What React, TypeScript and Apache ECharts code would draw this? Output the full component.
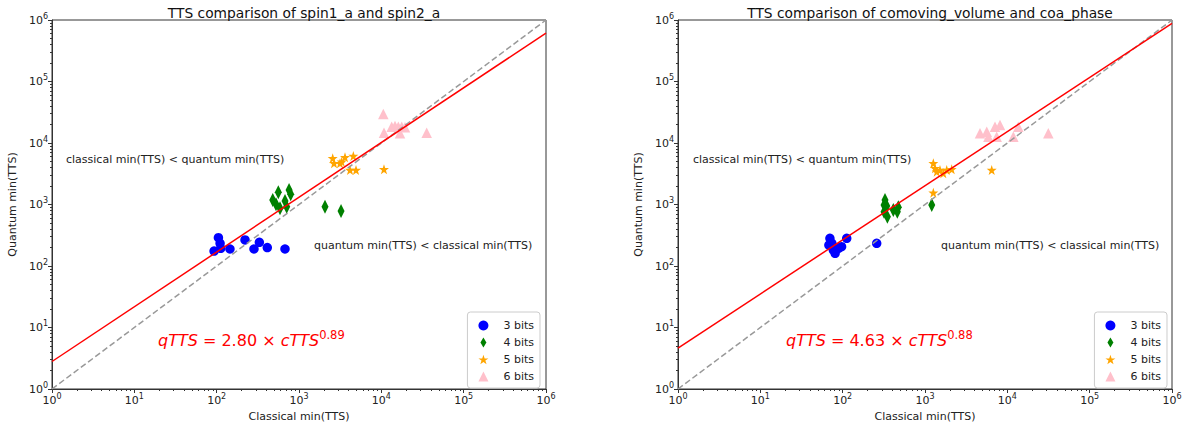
import React, { useEffect, useRef } from "react";
import * as echarts from "echarts";

// ---------- data (classical min(TTS), quantum min(TTS)) ----------
const leftTitle = "TTS comparison of spin1_a and spin2_a";
const rightTitle = "TTS comparison of comoving_volume and coa_phase";

const leftBits3: [number, number][] = [
  [105, 289], [110, 234], [93, 175], [112, 194], [145, 189],
  [221, 265], [284, 189], [330, 243], [412, 199], [676, 189],
];
const leftBits4: [number, number][] = [
  [561, 1578], [757, 1721], [793, 1466], [480, 1183], [526, 1008],
  [588, 867], [676, 1140], [709, 921], [2070, 921], [3240, 784],
];
const leftBits5: [number, number][] = [
  [2567, 5640], [2663, 4677], [3148, 4677], [3303, 4966], [3620, 5853],
  [4571, 6148], [4165, 3639], [4925, 3639], [10770, 3735],
];
const leftBits6: [number, number][] = [
  [10570, 29630], [10780, 14720], [13370, 18410], [14660, 18890], [16080, 18410],
  [17690, 18410], [19400, 17990], [16860, 14380], [35560, 14720],
];

const rightBits3: [number, number][] = [
  [70, 282], [74, 234], [68, 219], [77, 182], [81, 161],
  [89, 194], [97, 206], [112, 282], [259, 234],
];
const rightBits4: [number, number][] = [
  [327, 1183], [343, 946], [318, 764], [349, 634], [412, 814],
  [474, 900], [461, 764], [318, 981], [1207, 981],
];
const rightBits5: [number, number][] = [
  [1262, 4677], [1324, 3880], [1388, 3413], [1521, 3639], [1668, 3215],
  [1836, 3639], [2110, 3735], [1262, 1556], [6460, 3639],
];
const rightBits6: [number, number][] = [
  [4656, 14380], [5620, 15280], [5880, 12650], [7080, 18410], [8150, 19630],
  [7430, 12650], [11830, 12650], [13590, 18410], [31470, 14380],
];

// fitted lines qTTS = a * cTTS^b, end points at cTTS = 1 and 1e6
const leftFit: [number, number][] = [[1, 2.8], [1e6, 612573]];
const rightFit: [number, number][] = [[1, 4.63], [1e6, 882228]];
const diagonal: [number, number][] = [[1, 1], [1e6, 1e6]];

const leftEq = { a: "2.80", b: "0.89" };
const rightEq = { a: "4.63", b: "0.88" };

const legendNames = ["3 bits", "4 bits", "5 bits", "6 bits"];
const xName = "Classical min(TTS)";
const yName = "Quantum min(TTS)";
const upperText = "classical min(TTS) < quantum min(TTS)";
const lowerText = "quantum min(TTS) < classical min(TTS)";

// ---------- styles ----------
const FONT = "DejaVu Sans";
const STAR =
  "path://M50,0 L61.8,35.1 L98.6,35.1 L68.8,56.9 L80.2,92 L50,70.3 L19.8,92 L31.2,56.9 L1.4,35.1 L38.2,35.1 Z";
const THIN_DIAMOND = "path://M30,0 L60,50 L30,100 L0,50 Z";
const colors = ["#0000ff", "#008000", "#ffa500", "#ffc0cb"];
const symbols = ["circle", "diamond", STAR, "triangle"];
const sizes: any[] = [9.5, [7, 14], 10, 10.5];

const tickFmt = (v: number) => `{a|10}{b|${Math.round(Math.log10(v))}}`;
const tickRich = {
  a: { fontSize: 11, fontFamily: FONT, color: "#222", lineHeight: 16 },
  b: { fontSize: 8, fontFamily: FONT, color: "#222", verticalAlign: "top", lineHeight: 16 },
};

function makeAxis(gridIndex: number, isX: boolean) {
  return {
    type: "log",
    logBase: 10,
    min: 1,
    max: 1e6,
    gridIndex,
    name: isX ? xName : yName,
    nameLocation: "middle",
    nameGap: isX ? 22 : 34,
    nameTextStyle: { fontSize: 11, fontFamily: FONT, color: "#222" },
    axisLine: { show: true, onZero: false, lineStyle: { color: "#333", width: 1 } },
    axisTick: { show: true, length: 4, lineStyle: { color: "#333" } },
    minorTick: { show: true, splitNumber: 9, length: 2, lineStyle: { color: "#333" } },
    splitLine: { show: false },
    minorSplitLine: { show: false },
    axisLabel: {
      formatter: tickFmt,
      rich: tickRich,
      margin: isX ? 3 : 4,
    },
  };
}

function seriesFor(
  gi: number,
  groups: [number, number][][],
  fit: [number, number][]
) {
  const out: any[] = groups.map((d, i) => ({
    type: "scatter",
    name: legendNames[i],
    xAxisIndex: gi,
    yAxisIndex: gi,
    data: d,
    symbol: symbols[i],
    symbolSize: sizes[i],
    itemStyle: { color: colors[i], opacity: 1 },
    z: 2,
  }));
  out.push({
    type: "line",
    xAxisIndex: gi,
    yAxisIndex: gi,
    data: diagonal,
    showSymbol: false,
    symbol: "none",
    lineStyle: { color: "#999999", width: 1.5, type: [6, 3] },
    z: 3,
    silent: true,
  });
  out.push({
    type: "line",
    xAxisIndex: gi,
    yAxisIndex: gi,
    data: fit,
    showSymbol: false,
    symbol: "none",
    lineStyle: { color: "#ff0000", width: 1.5 },
    z: 4,
    silent: true,
  });
  return out;
}

function legendFor(right: number) {
  return {
    orient: "vertical",
    right,
    top: 312,
    data: legendNames.map((n, i) => ({
      name: n,
      icon: i === 2 ? STAR : i === 1 ? THIN_DIAMOND : i === 0 ? "circle" : "triangle",
    })),
    itemWidth: 10,
    itemHeight: 10,
    itemGap: 6,
    backgroundColor: "#ffffff",
    borderColor: "#cccccc",
    borderWidth: 1,
    borderRadius: 3,
    padding: [8, 6, 6, 11],
    textStyle: { fontSize: 11, fontFamily: FONT, color: "#222", padding: [0, 0, 0, 10] },
    selectedMode: false,
  };
}

function eqText(x: number, y: number, eq: { a: string; b: string }) {
  return {
    type: "text",
    x,
    y,
    style: {
      text: `{i|qTTS}{n| = ${eq.a} × }{i|cTTS}{s|${eq.b}}`,
      fill: "#ff0000",
      verticalAlign: "middle",
      rich: {
        i: { fontSize: 16, fontStyle: "italic", fontFamily: FONT, fill: "#ff0000", lineHeight: 22 },
        n: { fontSize: 16, fontFamily: FONT, fill: "#ff0000", lineHeight: 22 },
        s: { fontSize: 11.5, fontFamily: FONT, fill: "#ff0000", verticalAlign: "top", lineHeight: 22 },
      },
    },
  };
}

function plainText(x: number, y: number, text: string) {
  return {
    type: "text",
    x,
    y,
    style: {
      text,
      fontSize: 11,
      fontFamily: FONT,
      fill: "#222",
      verticalAlign: "middle",
    },
  };
}

export default function App() {
  const ref = useRef<HTMLDivElement>(null);
  useEffect(() => {
    if (!ref.current) return;
    const chart = echarts.init(ref.current, null, { renderer: "svg" });
    chart.setOption({
      animation: false,
      backgroundColor: "#ffffff",
      title: [
        {
          text: leftTitle,
          left: 299,
          top: 1,
          textAlign: "center",
          textStyle: { fontSize: 13.8, fontWeight: "normal", fontFamily: FONT, color: "#111" },
        },
        {
          text: rightTitle,
          left: 925,
          top: 1,
          textAlign: "center",
          textStyle: { fontSize: 13.8, fontWeight: "normal", fontFamily: FONT, color: "#111" },
        },
      ],
      grid: [
        { left: 52, right: 641, top: 20, bottom: 41, show: true, borderColor: "#333", borderWidth: 1, containLabel: false },
        { left: 678, right: 15, top: 20, bottom: 41, show: true, borderColor: "#333", borderWidth: 1, containLabel: false },
      ],
      xAxis: [makeAxis(0, true), makeAxis(1, true)],
      yAxis: [makeAxis(0, false), makeAxis(1, false)],
      legend: [legendFor(647), legendFor(20)],
      series: [
        ...seriesFor(0, [leftBits3, leftBits4, leftBits5, leftBits6], leftFit),
        ...seriesFor(1, [rightBits3, rightBits4, rightBits5, rightBits6], rightFit),
      ],
      graphic: [
        plainText(66, 159, upperText),
        plainText(314, 245, lowerText),
        plainText(693, 159, upperText),
        plainText(941, 245, lowerText),
        eqText(158, 340, leftEq),
        eqText(786, 340, rightEq),
      ],
    });
    return () => chart.dispose();
  }, []);
  return (
    <div
      ref={ref}
      style={{ position: "fixed", left: 0, top: 0, width: 1187, height: 430, background: "#fff" }}
    />
  );
}
